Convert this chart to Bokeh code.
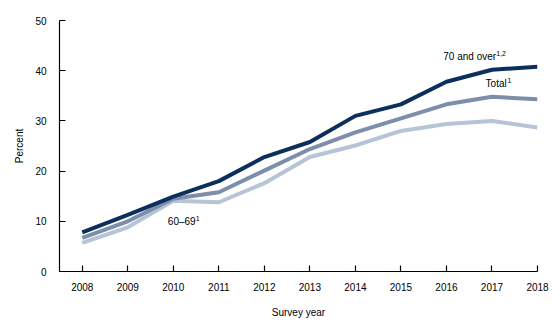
from bokeh.plotting import figure
from bokeh.models import Range1d, FixedTicker
from bokeh.core.properties import value
from bokeh.embed import file_html
from bokeh.resources import INLINE

years = [2008, 2009, 2010, 2011, 2012, 2013, 2014, 2015, 2016, 2017, 2018]
over70 = [7.8, 11.3, 14.9, 18.0, 22.8, 25.8, 31.0, 33.3, 37.8, 40.2, 40.8]
total = [6.7, 10.0, 14.5, 15.8, 20.1, 24.4, 27.7, 30.5, 33.3, 34.8, 34.3]
age6069 = [5.7, 8.8, 14.1, 13.8, 17.6, 22.8, 25.1, 28.0, 29.4, 30.0, 28.7]
y_ticks = [0, 10, 20, 30, 40, 50]

label_text = ["70 and over", "Total", "60–69"]
label_sup = ["1,2", "1", "1"]
label_x = [2015.93, 2016.86, 2009.88]
label_y = [42.8, 37.4, 10.0]
sup_offset = [53, 22, 28]

FONT = "Liberation Sans"
c_dark = "#0c2f5e"
c_mid = "#7d8eaa"
c_light = "#b6c4d6"

p = figure(width=560, height=331, output_backend="svg", toolbar_location=None,
           x_range=Range1d(2007.5, 2018), y_range=Range1d(0, 50),
           min_border_left=59, min_border_right=23, min_border_top=20, min_border_bottom=60)
p.outline_line_color = None
p.xgrid.visible = False
p.ygrid.visible = False
p.background_fill_color = "white"
p.border_fill_color = "white"

p.line(years, age6069, line_color=c_light, line_width=4)
p.line(years, total, line_color=c_mid, line_width=4)
p.line(years, over70, line_color=c_dark, line_width=4)

for ax in (p.xaxis[0], p.yaxis[0]):
    ax.major_tick_in = 6
    ax.major_tick_out = 0
    ax.minor_tick_line_color = None
    ax.axis_line_color = "black"
    ax.axis_line_width = 1.2
    ax.major_tick_line_color = "black"
    ax.major_tick_line_width = 1.2
    ax.major_label_text_font = FONT
    ax.major_label_text_font_size = "10px"
    ax.major_label_text_color = "black"
    ax.axis_label_text_font = FONT
    ax.axis_label_text_font_size = "10px"
    ax.axis_label_text_font_style = "normal"
    ax.axis_label_text_color = "black"

p.xaxis.ticker = FixedTicker(ticks=years)
p.yaxis.ticker = FixedTicker(ticks=y_ticks)
p.xaxis.major_label_standoff = 11
p.yaxis.major_label_standoff = 13
p.xaxis.axis_label = "Survey year"
p.yaxis.axis_label = "Percent"
p.xaxis.axis_label_standoff = 13
p.yaxis.axis_label_standoff = 7

for i in range(len(label_text)):
    p.text(x=[label_x[i]], y=[label_y[i]], text=[label_text[i]], text_font=value(FONT),
           text_font_size="10px", text_color="black", text_baseline="middle", text_align="left")
    p.text(x=[label_x[i]], y=[label_y[i]], text=[label_sup[i]], text_font=value(FONT),
           text_font_size="7px", text_color="black", text_baseline="middle", text_align="left",
           x_offset=sup_offset[i], y_offset=-3)

open("out.html", "w").write(file_html(p, INLINE))
